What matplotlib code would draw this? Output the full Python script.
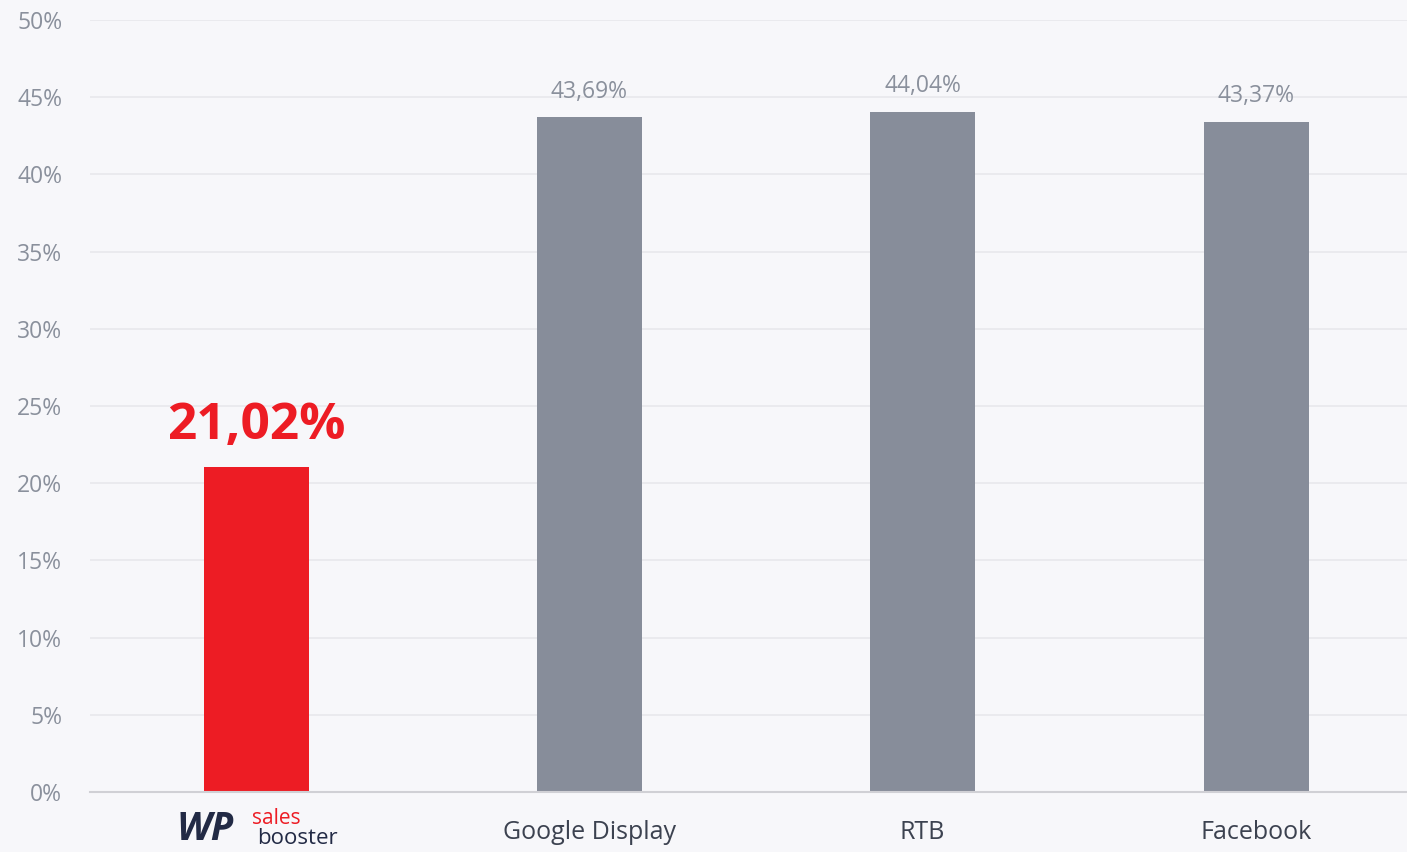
import matplotlib
matplotlib.use("Agg")
import matplotlib.pyplot as plt
from matplotlib.ticker import MultipleLocator, FuncFormatter

categories = ["sales booster", "Google Display", "RTB", "Facebook"]
values = [21.02, 43.69, 44.04, 43.37]
bar_colors = ["#ed1c24", "#878d9a", "#878d9a", "#878d9a"]

BG = "#f7f7fa"
TXT = "#8a909c"
plt.rcParams["font.family"] = ["Open Sans", "DejaVu Sans"]

fig = plt.figure(figsize=(14.07, 8.52), dpi=100)
fig.patch.set_facecolor(BG)
ax = fig.add_axes([90 / 1407, 60 / 852, 1 - 90 / 1407, 772 / 852])
ax.set_facecolor(BG)

x = list(range(len(categories)))
ax.bar(x, values, width=0.315, color=bar_colors, zorder=3)

ax.set_xlim(-0.498, 3.453)
ax.set_ylim(0, 50)
ax.yaxis.set_major_locator(MultipleLocator(5))
ax.yaxis.set_major_formatter(FuncFormatter(lambda v, p: f"{v:.0f}%"))
ax.grid(axis="y", color="#e8e8ec", linewidth=1.2, zorder=0)
ax.tick_params(axis="y", length=0, pad=20, labelsize=16.5, labelcolor=TXT)
ax.tick_params(axis="x", length=0, pad=20, labelsize=18, labelcolor="#3c4250")
for s in ["top", "right", "left"]:
    ax.spines[s].set_visible(False)
ax.spines["bottom"].set_color("#d0d0d5")
ax.spines["bottom"].set_linewidth(1.5)
ax.spines["bottom"].set_zorder(4)

ax.set_xticks(x)
ax.set_xticklabels([""] + categories[1:])

# value labels
for i, v in enumerate(values):
    lbl = f"{v:.2f}%".replace(".", ",")
    if i == 0:
        ax.annotate(lbl, (i, v), xytext=(0, 12), textcoords="offset points",
                    ha="center", va="bottom", fontsize=37, fontweight="bold",
                    color="#ed1c24")
    else:
        ax.annotate(lbl, (i, v), xytext=(0, 10), textcoords="offset points",
                    ha="center", va="bottom", fontsize=16.5, color=TXT)

# logo stand-in under first bar
fig.text(205 / 1407, 1 - 830 / 852, "WP", ha="center", va="center", fontsize=28,
         fontweight="bold", fontstyle="italic", color="#222a45")
fig.text(252 / 1407, 1 - 818 / 852, "sales", ha="left", va="center", fontsize=15,
         color="#ed1c24")
fig.text(257 / 1407, 1 - 838 / 852, "booster", ha="left", va="center", fontsize=16,
         color="#222a45")

fig.savefig("out.png", dpi=100, facecolor=BG)
